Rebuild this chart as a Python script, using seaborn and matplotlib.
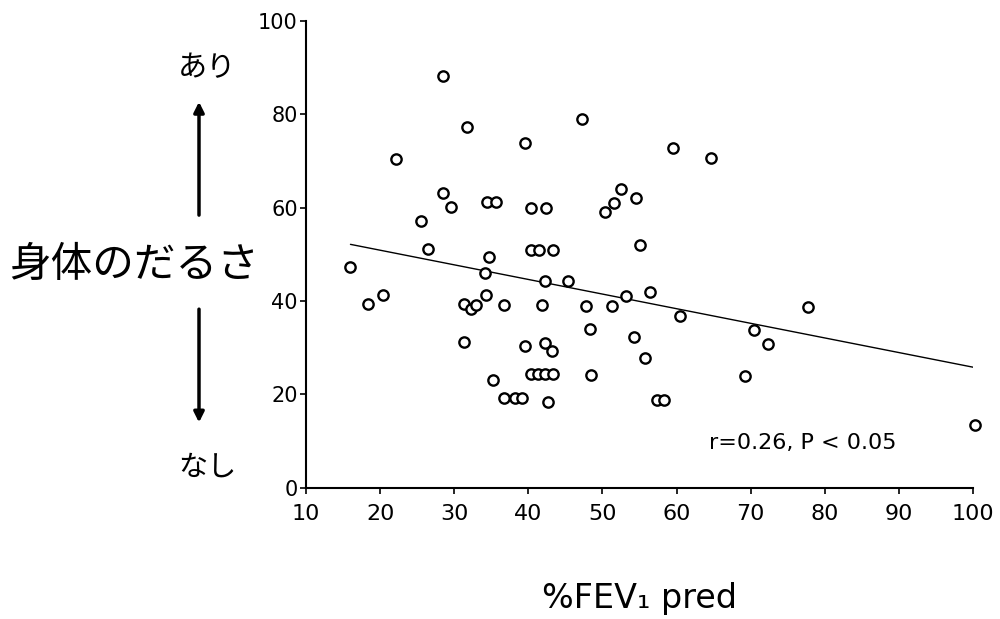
import numpy as np
import pandas as pd
import matplotlib
matplotlib.use("Agg")
import matplotlib.pyplot as plt
import seaborn as sns

# %FEV1 pred vs 身体のだるさ
fev1 = [16.0, 18.3, 20.4, 22.2, 25.5, 26.4, 28.5, 28.5, 29.5, 31.7,
        31.3, 32.3, 33.0, 31.3, 34.4, 35.6, 34.7, 34.1, 34.3, 35.2,
        36.7, 36.7, 38.2, 39.2, 39.5, 40.4, 42.4, 40.3, 41.5, 43.3,
        42.3, 41.8, 39.6, 42.3, 43.2, 40.4, 41.3, 42.2, 43.3, 42.6,
        45.4, 47.3, 47.8, 48.3, 48.5, 50.3, 51.6, 52.5, 54.5, 51.3,
        53.2, 54.3, 55.1, 55.8, 56.4, 57.4, 58.3, 59.5, 60.4, 64.6,
        69.2, 70.4, 72.4, 77.7, 100.3]
fatigue = [47.4, 39.4, 41.4, 70.4, 57.2, 51.2, 88.3, 63.2, 60.2, 77.2,
           39.3, 38.3, 39.2, 31.2, 61.3, 61.3, 49.5, 46.1, 41.3, 23.1,
           39.2, 19.2, 19.2, 19.2, 73.9, 60.0, 60.0, 51.0, 51.0, 51.0,
           44.2, 39.2, 30.3, 31.1, 29.2, 24.3, 24.3, 24.3, 24.3, 18.3,
           44.2, 79.0, 39.0, 34.0, 24.1, 59.0, 61.1, 64.0, 62.0, 39.0,
           41.1, 32.2, 52.0, 27.9, 41.9, 18.8, 18.8, 72.9, 36.8, 70.7,
           24.0, 33.7, 30.8, 38.7, 13.5]
x_ticks = [10, 20, 30, 40, 50, 60, 70, 80, 90, 100]
y_ticks = [0, 20, 40, 60, 80, 100]

df = pd.DataFrame({"fev1": fev1, "fatigue": fatigue})

sns.set_style("ticks")
plt.rcParams["font.family"] = ["DejaVu Sans", "Noto Sans CJK JP"]
plt.rcParams["text.color"] = "black"
plt.rcParams["xtick.color"] = "black"
plt.rcParams["ytick.color"] = "black"
plt.rcParams["axes.edgecolor"] = "black"

fig = plt.figure(figsize=(10, 6.19), dpi=100)
ax = fig.add_axes([0.306, 0.212, 0.667, 0.754])

sns.regplot(data=df, x="fev1", y="fatigue", ci=None, scatter=False,
            truncate=True, color="black", line_kws={"lw": 1.0}, ax=ax)
sns.scatterplot(data=df, x="fev1", y="fatigue", s=55, facecolor="white",
                edgecolor="black", linewidth=1.7, zorder=3, clip_on=False, ax=ax)

ax.set_xlim(10, 100)
ax.set_ylim(0, 100)
ax.set_xticks(x_ticks)
ax.set_yticks(y_ticks)
ax.tick_params(axis="x", labelsize=16, length=4, width=1.2, pad=8)
ax.tick_params(axis="y", labelsize=15, length=4, width=1.2, pad=2)
for s in ["left", "bottom"]:
    ax.spines[s].set_linewidth(1.5)
sns.despine(ax=ax)
ax.set_xlabel("")
ax.set_ylabel("")
ax.patch.set_alpha(0)

ax.text(0.885, 0.096, "r=0.26, P < 0.05", transform=ax.transAxes,
        ha="right", va="center", fontsize=16)

fig.text(0.64, 0.033, "%FEV\u2081 pred", ha="center", va="center", fontsize=24)

fig.text(0.207, 0.89, "あり", ha="center", va="center", fontsize=21)
fig.text(0.134, 0.572, "身体のだるさ", ha="center", va="center", fontsize=30)
fig.text(0.207, 0.245, "なし", ha="center", va="center", fontsize=21)
fig.add_artist(matplotlib.patches.FancyArrowPatch(
    (0.199, 0.648), (0.199, 0.84), transform=fig.transFigure,
    arrowstyle="-|>,head_length=6,head_width=3", lw=2.5, color="black"))
fig.add_artist(matplotlib.patches.FancyArrowPatch(
    (0.199, 0.505), (0.199, 0.313), transform=fig.transFigure,
    arrowstyle="-|>,head_length=6,head_width=3", lw=2.5, color="black"))

fig.savefig("out.png", dpi=100)
